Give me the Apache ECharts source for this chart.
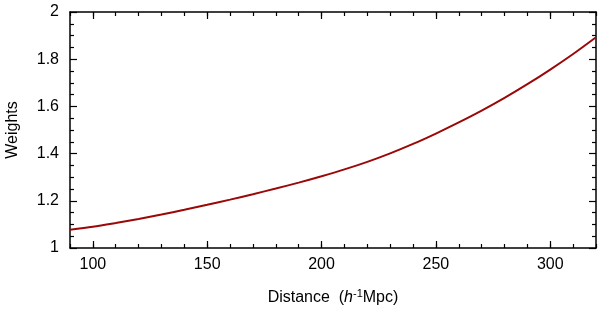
<!DOCTYPE html>
<html>
<head>
<meta charset="utf-8">
<script src="https://cdn.jsdelivr.net/npm/echarts@6/dist/echarts.min.js"></script>
<style>html,body{margin:0;padding:0;background:#fff}#c{width:600px;height:309px}</style>
</head>
<body>
<div id="c"></div>
<script>
var distance = [90,100,110,120,130,140,150,160,170,180,190,200,210,220,230,240,250,260,270,280,290,300,310,320];
var weights = [1.077,1.090,1.106,1.123,1.142,1.162,1.183,1.205,1.228,1.252,1.277,1.304,1.333,1.365,1.401,1.441,1.485,1.532,1.582,1.636,1.694,1.756,1.822,1.893];
var xTicks = [100,150,200,250,300];
var yTicks = [1,1.2,1.4,1.6,1.8,2];

var font = 'Liberation Sans, Arial, Helvetica, sans-serif';
var chart = echarts.init(document.getElementById('c'));
var data = distance.map(function(d,i){return [d, weights[i]];});
var lineStyle = {color: '#000', width: 1.5};
var tickStyle = {color: '#000', width: 1.2};
function xMinor(pos){
  return {type: 'value', min: 90, max: 320, interval: 10, position: pos,
    axisLine: {show: true, lineStyle: lineStyle},
    axisTick: {show: true, inside: true, length: 4, lineStyle: tickStyle},
    axisLabel: {show: false}, splitLine: {show: false}};
}
function xMajor(pos, labels){
  return {type: 'value', min: 90, max: 320, interval: 10, position: pos,
    axisLine: {show: false},
    axisTick: {show: true, inside: true, length: 7, customValues: xTicks, lineStyle: tickStyle},
    axisLabel: labels ? {show: true, customValues: xTicks, color: '#000', fontSize: 16, fontFamily: font, margin: 9} : {show: false},
    splitLine: {show: false}};
}
function yAxis(pos, labels){
  return {type: 'value', min: 1, max: 2, interval: 0.2, position: pos,
    axisLine: {show: true, lineStyle: lineStyle},
    axisTick: {show: true, inside: true, length: 7, lineStyle: tickStyle},
    minorTick: {show: true, splitNumber: 4, length: 4, lineStyle: tickStyle},
    axisLabel: labels ? {show: true, color: '#000', fontSize: 16, fontFamily: font, margin: 11,
      formatter: function(v){ return String(Math.round(v*10)/10); }} : {show: false},
    splitLine: {show: false}};
}
var xb = xMajor('bottom', true);
xb.name = 'Distance  ({i|h}{s|-1}Mpc)';
xb.nameLocation = 'middle';
xb.nameGap = 40;
xb.nameTextStyle = {color: '#000', fontSize: 16, fontFamily: font,
  rich: {i: {fontStyle: 'italic', fontSize: 16, fontFamily: font, color: '#000'},
         s: {fontSize: 11, fontFamily: font, color: '#000', padding: [0,0,8,0]}}};
var yl = yAxis('left', true);
yl.name = 'Weights';
yl.nameLocation = 'middle';
yl.nameGap = 49;
yl.nameTextStyle = {color: '#000', fontSize: 16, fontFamily: font};

chart.setOption({
  animation: false,
  grid: {left: 70, right: 4, top: 12, bottom: 61, outerBoundsMode: 'none', containLabel: false},
  xAxis: [xMinor('bottom'), xb, xMinor('top'), xMajor('top', false)],
  yAxis: [yl, yAxis('right', false)],
  series: [
    {type: 'line', data: data, smooth: 0.3, showSymbol: false, xAxisIndex: 0, yAxisIndex: 0,
     lineStyle: {color: '#9a0808', width: 2}},
    {type: 'line', data: [], xAxisIndex: 1, yAxisIndex: 0},
    {type: 'line', data: [], xAxisIndex: 2, yAxisIndex: 1},
    {type: 'line', data: [], xAxisIndex: 3, yAxisIndex: 1}
  ]
});
</script>
</body>
</html>
